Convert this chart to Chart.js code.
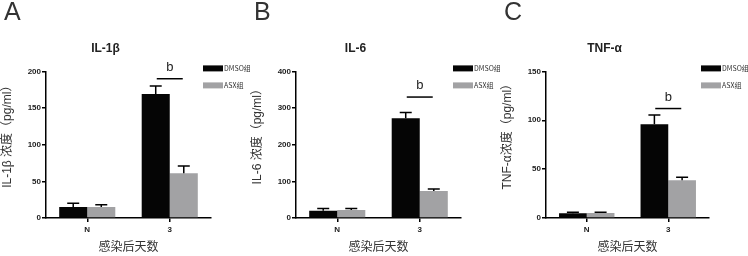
<!DOCTYPE html>
<html>
<head>
<meta charset="utf-8">
<script src="https://cdn.jsdelivr.net/npm/chart.js@4.4.1/dist/chart.umd.min.js"></script>
<style>
  html, body { margin: 0; padding: 0; background: #fff; }
  #wrap { position: relative; width: 748px; height: 256px; }
  .panel { position: absolute; top: 0; }
</style>
</head>
<body>
<div id="wrap">
  <canvas id="chartA" class="panel" style="left:0" width="250" height="256"></canvas>
  <canvas id="chartB" class="panel" style="left:250px" width="250" height="256"></canvas>
  <canvas id="chartC" class="panel" style="left:500px" width="248" height="256"></canvas>
</div>
<script>
const days = ['N', '3'];
const groupNames = ['DMSO组', 'ASX组'];
const groupColors = ['#050505', '#a2a2a4'];

// IL-1β (pg/ml)
const il1bDmso = [15, 169];
const il1bDmsoErr = [5, 11];
const il1bAsx = [15, 61];
const il1bAsxErr = [3, 10];

// IL-6 (pg/ml)
const il6Dmso = [20, 272];
const il6DmsoErr = [6, 16];
const il6Asx = [22, 74];
const il6AsxErr = [4, 5];

// TNF-α (pg/ml)
const tnfDmso = [4.8, 96];
const tnfDmsoErr = [1.2, 9.5];
const tnfAsx = [5, 38.7];
const tnfAsxErr = [1, 3];

const panelLetters = ['A', 'B', 'C'];
const panelTitles = ['IL-1β', 'IL-6', 'TNF-α'];
const yTitles = ['IL-1β 浓度（pg/ml）', 'IL-6 浓度（pg/ml）', 'TNF-α浓度（pg/ml）'];
const yMaxes = [200, 400, 150];
const ySteps = [50, 100, 50];
const sigLevels = [190, 330, 112];
const sigLabel = 'b';
const xTitle = '感染后天数';

const FONT = "'Liberation Sans', 'Noto Sans CJK SC', sans-serif";

const errorBars = {
    id: 'errorBars',
    afterDatasetsDraw(chart) {
        const ctx = chart.ctx;
        const y = chart.scales.y;
        ctx.save();
        ctx.strokeStyle = '#000';
        ctx.lineWidth = 1.5;
        chart.data.datasets.forEach((ds, i) => {
            chart.getDatasetMeta(i).data.forEach((bar, j) => {
                const top = y.getPixelForValue(ds.data[j] + ds.errors[j]);
                ctx.beginPath();
                ctx.moveTo(bar.x, bar.y);
                ctx.lineTo(bar.x, top);
                ctx.moveTo(bar.x - 6, top);
                ctx.lineTo(bar.x + 6, top);
                ctx.stroke();
            });
        });
        ctx.restore();
    }
};

const decorations = {
    id: 'decorations',
    afterDraw(chart) {
        const ctx = chart.ctx;
        const o = chart.options.plugins.decorations;
        const area = chart.chartArea;
        ctx.save();

        // panel letter
        ctx.fillStyle = '#333';
        ctx.font = '25px ' + FONT;
        ctx.textAlign = 'left';
        ctx.textBaseline = 'alphabetic';
        ctx.fillText(o.letter, 4, 20);

        // y axis title
        ctx.font = '12px ' + FONT;
        ctx.textAlign = 'center';
        ctx.textBaseline = 'middle';
        ctx.translate(8, (area.top + area.bottom) / 2 - 11);
        ctx.rotate(-Math.PI / 2);
        ctx.fillText(o.yTitle, 0, 0);
        ctx.setTransform(1, 0, 0, 1, 0, 0);

        // legend
        ctx.textAlign = 'left';
        ctx.font = "7px 'Liberation Sans Narrow', 'Noto Sans CJK SC', sans-serif";
        chart.data.datasets.forEach((ds, i) => {
            const top = area.top - 6 + i * 17;
            ctx.fillStyle = ds.backgroundColor;
            ctx.fillRect(area.right - 8, top, 20, 6);
            ctx.fillStyle = '#333';
            ctx.fillText(ds.label, area.right + 13, top + 3);
        });

        // significance mark
        const m0 = chart.getDatasetMeta(0).data[1];
        const m1 = chart.getDatasetMeta(1).data[1];
        const cx = (m0.x + m1.x) / 2;
        const sy = chart.scales.y.getPixelForValue(o.sigLevel);
        ctx.strokeStyle = '#000';
        ctx.lineWidth = 1.5;
        ctx.beginPath();
        ctx.moveTo(cx - 13, sy);
        ctx.lineTo(cx + 13, sy);
        ctx.stroke();
        ctx.fillStyle = '#222';
        ctx.font = '13px ' + FONT;
        ctx.textAlign = 'center';
        ctx.textBaseline = 'alphabetic';
        ctx.fillText(sigLabel, cx, sy - 8);

        ctx.restore();
    }
};

function makePanel(id, k, dmso, dmsoErr, asx, asxErr) {
    const ctx = document.getElementById(id).getContext('2d');
    const axisGrid = { display: true, drawOnChartArea: false, tickLength: 4, color: '#000', lineWidth: 1.5 };
    return new Chart(ctx, {
        type: 'bar',
        data: {
            labels: days,
            datasets: [
                { label: groupNames[0], data: dmso, errors: dmsoErr, backgroundColor: groupColors[0] },
                { label: groupNames[1], data: asx, errors: asxErr, backgroundColor: groupColors[1] }
            ]
        },
        options: {
            responsive: false,
            animation: false,
            layout: { padding: { left: 0, right: 39, top: 0, bottom: 0 } },
            datasets: { bar: { categoryPercentage: 0.68, barPercentage: 1 } },
            plugins: {
                legend: { display: false },
                tooltip: { enabled: false },
                title: {
                    display: true,
                    text: panelTitles[k],
                    color: '#222',
                    font: { family: FONT, size: 12, weight: 'bold' },
                    padding: { top: 41, bottom: 16 }
                },
                decorations: {
                    letter: panelLetters[k],
                    yTitle: yTitles[k],
                    sigLevel: sigLevels[k]
                }
            },
            scales: {
                x: {
                    offset: true,
                    grid: Object.assign({ offset: false }, axisGrid),
                    border: { color: '#000', width: 1.5 },
                    ticks: { color: '#222', padding: 3, font: { family: FONT, size: 8, weight: 'bold' } },
                    title: {
                        display: true,
                        text: xTitle,
                        color: '#333',
                        font: { family: FONT, size: 12 },
                        padding: { top: 0, bottom: 1 }
                    },
                    afterFit: s => { s.height = 38; }
                },
                y: {
                    min: 0,
                    max: yMaxes[k],
                    grid: axisGrid,
                    border: { color: '#000', width: 1.5 },
                    ticks: { stepSize: ySteps[k], color: '#222', padding: 1, font: { family: FONT, size: 8, weight: 'bold' } },
                    afterFit: s => { s.width = 46; }
                }
            }
        },
        plugins: [errorBars, decorations]
    });
}

makePanel('chartA', 0, il1bDmso, il1bDmsoErr, il1bAsx, il1bAsxErr);
makePanel('chartB', 1, il6Dmso, il6DmsoErr, il6Asx, il6AsxErr);
makePanel('chartC', 2, tnfDmso, tnfDmsoErr, tnfAsx, tnfAsxErr);
</script>
</body>
</html>
